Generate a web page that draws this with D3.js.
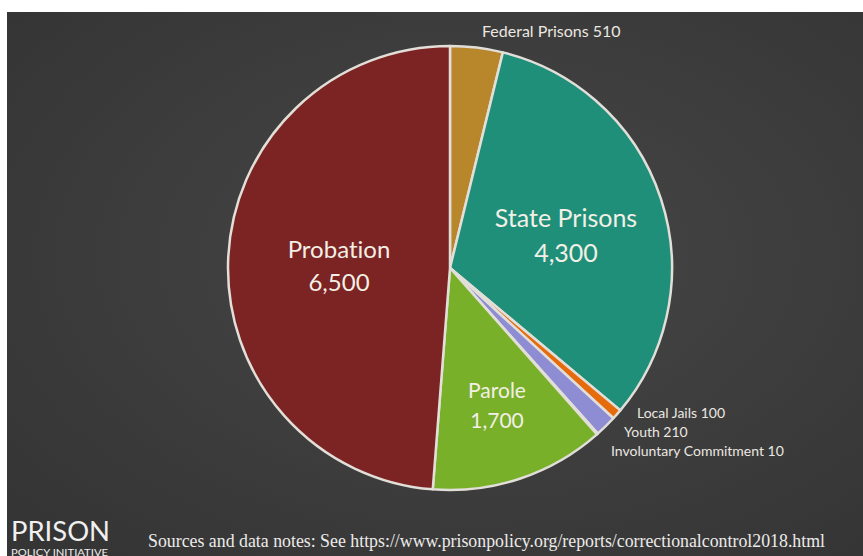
<!DOCTYPE html>
<html><head><meta charset="utf-8">
<script src="https://cdn.jsdelivr.net/npm/d3@7"></script>
<style>html,body{margin:0;padding:0;background:#fff;}svg{display:block;} text{font-variant-ligatures:none;}</style>
</head><body>
<svg id="chart" width="863" height="556"></svg>
<script>
const categories = ["Federal Prisons","State Prisons","Local Jails","Youth","Involuntary Commitment","Parole","Probation"];
const values = [510, 4300, 100, 210, 10, 1700, 6500];
const valueLabels = ["510","4,300","100","210","10","1,700","6,500"];
const colors = ["#b8862b","#1f8f7a","#e56b0c","#8e8cd2","#f4f4f4","#78b02a","#7c2323"];

const svg = d3.select("#chart");
const W = 863, H = 556;
const defs = svg.append("defs");
const grad = defs.append("radialGradient").attr("id","bg").attr("cx","55%").attr("cy","45%").attr("r","70%");
grad.append("stop").attr("offset","0%").attr("stop-color","#474747");
grad.append("stop").attr("offset","100%").attr("stop-color","#353535");
svg.append("rect").attr("x",7).attr("y",12).attr("width",W-7).attr("height",H-12).attr("fill","url(#bg)");

const cx = 450, cy = 268, R = 222;
const pie = d3.pie().sort(null).value(d => d.v);
const data = categories.map((c,i)=>({c, v: values[i], lab: valueLabels[i], col: colors[i]}));
const arcs = pie(data);
const arc = d3.arc().innerRadius(0).outerRadius(R);
const g = svg.append("g").attr("transform",`translate(${cx},${cy})`);
g.selectAll("path").data(arcs).join("path")
  .attr("d", arc).attr("fill", d => d.data.col)
  .attr("stroke","#e2ded8").attr("stroke-width",2.5).attr("stroke-linejoin","round");

const font = "Lato, 'Open Sans', sans-serif";
// big inner labels
const inner = {"Probation":[339,258,291,24], "State Prisons":[566,227,262,25], "Parole":[497,398,428,21]};
arcs.forEach(a => {
  const k = inner[a.data.c];
  if (!k) return;
  const t = svg.append("text").attr("text-anchor","middle").attr("fill","#f3efe6")
    .style("font-family",font).style("font-size",k[3]+"px");
  t.append("tspan").attr("x",k[0]).attr("y",k[1]).text(a.data.c);
  t.append("tspan").attr("x",k[0]).attr("y",k[2]).text(a.data.lab);
});
// small outside labels
const outer = {"Federal Prisons":[482,37,"start",16], "Local Jails":[637,418,"start",14], "Youth":[624,437,"start",14], "Involuntary Commitment":[611,456,"start",14]};
arcs.forEach(a => {
  const k = outer[a.data.c];
  if (!k) return;
  svg.append("text").attr("x",k[0]).attr("y",k[1]).attr("text-anchor",k[2])
    .attr("fill","#ebe7e1").style("font-family",font).style("font-size",k[3]+"px")
    .text(a.data.c + " " + a.data.lab);
});

// footer
svg.append("text").attr("x",11).attr("y",541).attr("fill","#f0f0f0")
  .style("font-family",font).style("font-size","26px").attr("textLength",99).attr("lengthAdjust","spacingAndGlyphs").text("PRISON");
svg.append("text").attr("x",11).attr("y",555.5).attr("fill","#f0f0f0")
  .style("font-family",font).style("font-size","8.5px").attr("textLength",97).attr("lengthAdjust","spacingAndGlyphs").text("POLICY INITIATIVE");
svg.append("text").attr("x",148).attr("y",547).attr("fill","#ecebea")
  .style("font-family","'Liberation Serif', 'DejaVu Serif', serif").style("font-size","18px")
  .attr("textLength",677).attr("lengthAdjust","spacingAndGlyphs")
  .text("Sources and data notes: See https://www.prisonpolicy.org/reports/correctionalcontrol2018.html");
</script>
</body></html>
